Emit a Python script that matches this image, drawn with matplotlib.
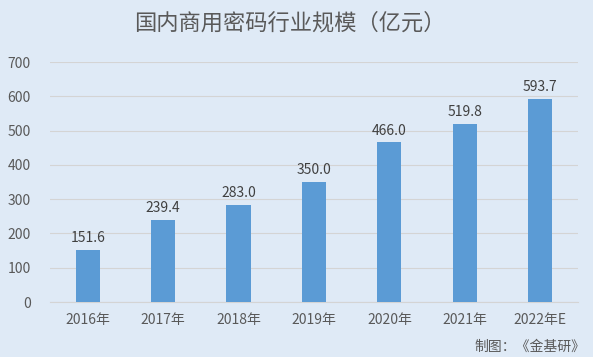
import matplotlib.pyplot as plt
import numpy as np

plt.rcParams['font.family'] = ['Noto Sans CJK SC', 'DejaVu Sans']

years = ['2016年', '2017年', '2018年', '2019年', '2020年', '2021年', '2022年E']
values = [151.6, 239.4, 283.0, 350.0, 466.0, 519.8, 593.7]
yticks = [0, 100, 200, 300, 400, 500, 600, 700]

bg = '#dfeaf6'
fig = plt.figure(figsize=(5.93, 3.57), dpi=100, facecolor=bg)
ax = fig.add_axes([0.0843, 0.154, 0.8904, 0.672], facecolor=bg)

x = np.arange(len(years))
ax.bar(x, values, width=0.32, color='#5b9bd5', zorder=3)
for xi, v in zip(x, values):
    ax.text(xi, v + 14, '%.1f' % v, ha='center', va='bottom', fontsize=10, color='#404040')

ax.set_xlim(-0.5, len(years) - 0.5)
ax.set_ylim(0, 700)
ax.set_yticks(yticks)
ax.set_yticklabels([str(t) for t in yticks], fontsize=10, color='#595959')
ax.set_xticks(x)
ax.set_xticklabels(years, fontsize=10, color='#595959')
ax.tick_params(length=0, pad=8)
ax.tick_params(axis='y', pad=14)
ax.grid(axis='y', color='#d4d4d4', linewidth=0.8, zorder=0)
for s in ['top', 'right', 'left']:
    ax.spines[s].set_visible(False)
ax.spines['bottom'].set_color('#d4d4d4')

fig.text(0.488, 0.935, '国内商用密码行业规模（亿元）', ha='center', va='center', fontsize=16, color='#595959')
fig.text(0.988, 0.028, '制图：《金基研》', ha='right', va='center', fontsize=10, color='#595959')

plt.savefig('out.png', dpi=100, facecolor=bg)
